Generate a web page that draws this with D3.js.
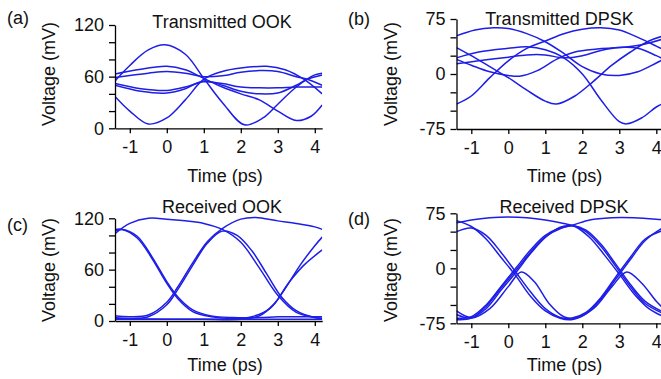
<!DOCTYPE html>
<html><head><meta charset="utf-8">
<script src="https://cdn.jsdelivr.net/npm/d3@7"></script>
<style>
body{margin:0;background:#fff;}
svg{display:block;font-family:"Liberation Sans",Arial,sans-serif;}
</style></head>
<body>
<svg id="chart" width="661" height="379"></svg>
<script>
// ---------- data (time in ps, voltage in mV) ----------
const timeTicks = [-1, 0, 1, 2, 3, 4];
const ookTicks = [0, 20, 40, 60, 80, 100, 120];
const ookLabels = [0, 60, 120];
const dpskTicks = [-75, -50, -25, 0, 25, 50, 75];
const dpskLabels = [-75, 0, 75];

const txOOK = [
  [[-1.4,55],[-1.0,73],[-0.5,91],[-0.05,97],[0.5,86],[1.0,58],[1.5,30],[2.1,4],[2.6,12],[3.0,28],[3.5,48],[4.0,62],[4.2,64]],
  [[-1.4,37],[-1.0,20],[-0.5,5],[0,12],[0.5,33],[1.0,57],[1.5,66],[2.0,70],[2.7,72],[3.2,68],[3.7,57],[4.2,40]],
  [[-1.4,63],[-0.8,68],[0,72],[0.5,68],[1.0,58],[1.5,48],[2.0,40],[2.5,33],[3.0,20],[3.5,9],[3.9,14],[4.2,27]],
  [[-1.4,59],[-0.5,64],[0,66],[0.5,64],[1.0,60],[1.5,61],[2.0,65],[2.5,67],[3.0,66],[3.5,60],[3.8,57],[4.2,50]],
  [[-1.4,52],[-0.7,46],[0,44],[0.5,48],[1.0,54],[1.5,52],[2.0,48],[2.5,47],[3.0,47],[3.5,48],[4.0,48],[4.2,48]],
  [[-1.4,50],[-0.7,43],[0,41],[0.5,46],[1.0,55],[1.5,50],[2.0,43],[2.5,40],[3.0,41],[3.5,50],[3.8,57],[4.2,62]]
];

const txDPSK = [
  [[-1.4,52],[-0.9,60],[-0.4,63],[0,62],[0.5,55],[1.0,44],[1.5,28],[2.0,10],[2.5,0],[3.0,-2],[3.5,3],[4.0,15],[4.2,20]],
  [[-1.4,-41],[-1.0,-30],[-0.5,-5],[0,18],[0.5,35],[1.0,45],[1.5,55],[2.0,61],[2.5,63],[3.0,60],[3.5,50],[4.0,38],[4.2,33]],
  [[-1.4,36],[-1.0,25],[-0.5,10],[0,-5],[0.5,-22],[1.0,-37],[1.3,-41],[1.8,-30],[2.3,-10],[2.8,12],[3.3,30],[3.8,45],[4.2,52]],
  [[-1.4,22],[-0.8,30],[0,35],[0.5,37],[1.0,33],[1.5,22],[2.0,0],[2.5,-35],[3.0,-65],[3.2,-68],[3.6,-60],[4.0,-45],[4.2,-40]],
  [[-1.4,14],[-0.8,18],[0,23],[0.5,26],[1.0,26],[1.5,22],[2.0,25],[2.5,32],[3.0,36],[3.5,35],[4.0,25],[4.2,20]],
  [[-1.4,20],[-1.0,12],[-0.5,3],[0,-2],[0.3,-3],[0.8,5],[1.3,20],[1.8,30],[2.4,34],[3.0,36],[3.6,40],[4.2,48]]
];

const rxOOK = [
  [[-1.4,102],[-1.0,114],[-0.5,120],[0,119],[0.5,117],[1.0,114],[1.5,107],[2.0,92],[2.5,62],[3.0,30],[3.5,10],[4.0,4],[4.2,3]],
  [[-1.4,105],[-1.2,107],[-0.8,99],[-0.4,75],[0,46],[0.3,28],[0.7,13],[1.2,6],[1.8,4],[2.5,4],[3.0,5],[3.5,5],[4.2,5]],
  [[-1.4,107],[-1.2,107],[-0.8,97],[-0.4,73],[0,44],[0.3,26],[0.7,11],[1.2,5],[1.8,3],[2.3,5],[2.8,15],[3.2,38],[3.6,65],[4.0,88],[4.2,98]],
  [[-1.4,6],[-1.0,5],[-0.5,7],[0,22],[0.3,40],[0.7,68],[1.1,93],[1.5,108],[2.0,119],[2.4,121],[3.0,117],[3.5,114],[4.0,110],[4.2,107]],
  [[-1.4,4],[-1.0,3],[-0.5,5],[0,19],[0.3,37],[0.7,65],[1.1,91],[1.5,105],[1.9,100],[2.3,82],[2.7,55],[3.1,28],[3.5,12],[4.0,4],[4.2,3]],
  [[-1.4,3],[0,2],[1.0,2],[2.0,2],[2.5,6],[2.9,20],[3.3,45],[3.7,65],[4.2,83]],
  [[-1.4,2],[0,2],[1.0,2],[2.0,2],[3.0,2],[4.2,2]]
];

const rxDPSK = [
  [[-1.4,62],[-1.0,66],[-0.5,69],[0,70],[0.5,69],[1.0,66],[1.5,61],[1.8,57],[2.2,42],[2.6,18],[3.0,-8],[3.4,-35],[3.8,-55],[4.2,-66]],
  [[-1.4,65],[-1.0,57],[-0.6,40],[-0.2,15],[0.2,-10],[0.6,-38],[1.0,-58],[1.4,-68],[1.7,-70],[2.1,-62],[2.5,-42],[2.9,-15],[3.3,12],[3.7,38],[4.2,56]],
  [[-1.4,50],[-1.0,55],[-0.6,45],[-0.2,22],[0.2,-5],[0.6,-32],[1.0,-55],[1.4,-67],[1.7,-68],[2.1,-60],[2.5,-40],[2.9,-12],[3.3,15],[3.7,40],[4.2,52]],
  [[-1.4,-68],[-1.0,-66],[-0.6,-50],[-0.2,-25],[0.2,0],[0.6,25],[1.0,45],[1.4,55],[1.75,59],[2.2,66],[2.8,69],[3.4,69],[4.0,67],[4.2,66]],
  [[-1.4,-70],[-1.0,-68],[-0.6,-52],[-0.2,-27],[0.2,-3],[0.6,22],[1.0,43],[1.4,54],[1.75,58],[2.1,50],[2.5,30],[2.9,3],[3.3,-25],[3.7,-48],[4.2,-62]],
  [[-1.4,-58],[-1.0,-67],[-0.6,-55],[-0.2,-30],[0.2,-6],[0.6,20],[1.0,42],[1.4,56],[1.75,58],[2.1,52],[2.5,33],[2.9,6],[3.3,-22],[3.7,-45],[4.2,-60]],
  [[-1.4,-63],[-1.0,-68],[-0.5,-55],[0,-25],[0.35,-5],[0.7,-18],[1.1,-48],[1.5,-66],[1.8,-68],[2.3,-55],[2.8,-25],[3.2,-5],[3.6,-20],[4.0,-45],[4.2,-55]]
];

const panels = [
  {tag:"(a)", title:"Transmitted OOK", traces:txOOK, yDom:[0,120], yTicks:ookTicks, yLab:ookLabels,
   x0:115, y0:25, y1:128.3, tagX:7, tagY:24, titleX:222, titleY:28, ylabX:55, ylabY:74, xlabY:182, xlabX:225},
  {tag:"(b)", title:"Transmitted DPSK", traces:txDPSK, yDom:[-75,75], yTicks:dpskTicks, yLab:dpskLabels,
   x0:456.5, y0:19, y1:129, tagX:348, tagY:25, titleX:559.5, titleY:25, ylabX:397, ylabY:74, xlabY:182, xlabX:564.5},
  {tag:"(c)", title:"Received OOK", traces:rxOOK, yDom:[0,120], yTicks:ookTicks, yLab:ookLabels,
   x0:115, y0:218.3, y1:321, tagX:7, tagY:231, titleX:222, titleY:213, ylabX:55, ylabY:270, xlabY:371, xlabX:225},
  {tag:"(d)", title:"Received DPSK", traces:rxDPSK, yDom:[-75,75], yTicks:dpskTicks, yLab:dpskLabels,
   x0:456.5, y0:213.3, y1:323.3, tagX:348, tagY:225, titleX:564, titleY:213, ylabX:397, ylabY:270, xlabY:371, xlabX:564.5}
];

const svg = d3.select("#chart");
const pxPerPs = 37;
const tDom = [-1.4, 4.2];
const lineColor = "#1e1ee6";

panels.forEach((p, i) => {
  const x = d3.scaleLinear().domain(tDom).range([p.x0, p.x0 + (tDom[1]-tDom[0])*pxPerPs]);
  const y = d3.scaleLinear().domain(p.yDom).range([p.y1, p.y0]);
  const g = svg.append("g");

  const clipId = "clip" + i;
  svg.append("clipPath").attr("id", clipId).append("rect")
    .attr("x", x.range()[0]).attr("y", p.y0 - 6)
    .attr("width", x.range()[1] - x.range()[0]).attr("height", p.y1 - p.y0 + 6);

  const line = d3.line().x(d => x(d[0])).y(d => y(d[1])).curve(d3.curveCatmullRom.alpha(0.5));
  g.append("g").attr("clip-path", `url(#${clipId})`)
    .selectAll("path").data(p.traces).join("path")
    .attr("d", line).attr("fill", "none").attr("stroke", lineColor).attr("stroke-width", 1.5);

  const xAxis = d3.axisBottom(x).tickValues(timeTicks).tickSize(5).tickSizeOuter(0).tickPadding(7)
    .tickFormat(d => d < 0 ? "-" + Math.abs(d) : d);
  const gx = g.append("g").attr("transform", `translate(0,${p.y1})`).call(xAxis);
  const yAxis = d3.axisLeft(y).tickValues(p.yTicks).tickSize(6).tickSizeOuter(0).tickPadding(5)
    .tickFormat(d => p.yLab.includes(d) ? (d < 0 ? "-" + Math.abs(d) : d) : "");
  const gy = g.append("g").attr("transform", `translate(${x.range()[0]},0)`).call(yAxis);
  [gx, gy].forEach(a => {
    a.selectAll("path,line").attr("stroke", "#000").attr("stroke-width", 1.3);
    a.selectAll("text").attr("font-size", 18).attr("fill", "#111")
      .attr("font-family", "'Liberation Sans', Arial, sans-serif");
  });

  g.append("text").attr("x", p.tagX).attr("y", p.tagY).attr("font-size", 18).attr("fill", "#111").text(p.tag);
  g.append("text").attr("x", p.titleX).attr("y", p.titleY).attr("text-anchor", "middle")
    .attr("font-size", 18).attr("fill", "#111").text(p.title);
  g.append("text").attr("transform", `translate(${p.ylabX},${p.ylabY}) rotate(-90)`)
    .attr("text-anchor", "middle").attr("font-size", 18).attr("fill", "#111").text("Voltage (mV)");
  g.append("text").attr("x", p.xlabX).attr("y", p.xlabY).attr("text-anchor", "middle")
    .attr("font-size", 18).attr("fill", "#111").text("Time (ps)");
});
</script>
</body></html>
